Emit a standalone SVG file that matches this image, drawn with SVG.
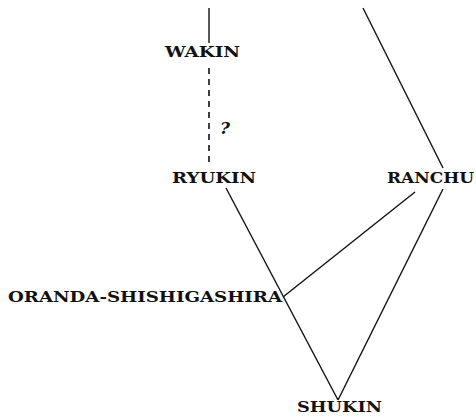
<svg xmlns="http://www.w3.org/2000/svg" width="476" height="419" viewBox="0 0 476 419">
<style>
text{font-family:"DejaVu Serif","Liberation Serif",serif;font-weight:bold;font-size:15px;fill:#111}
.l{stroke:#111;stroke-width:1.4;fill:none}
.d{stroke:#111;stroke-width:1.6;stroke-dasharray:6,5;fill:none}
</style>
<rect width="476" height="419" fill="#fff"/>
<g id="connectors">
<line class="l" x1="209" y1="8" x2="209" y2="43"/>
<line class="d" x1="209" y1="68" x2="209" y2="166"/>
<line class="l" x1="363" y1="8" x2="443" y2="168"/>
<line class="l" x1="226" y1="188" x2="338" y2="400"/>
<line class="l" x1="415" y1="192" x2="283" y2="297"/>
<line class="l" x1="443" y1="189" x2="338" y2="400"/>
</g>
<g id="wakin"><text x="165" y="57" textLength="75" lengthAdjust="spacingAndGlyphs">WAKIN</text></g>
<g id="question"><text x="220" y="134" style="font-style:italic;font-size:17px">?</text></g>
<g id="ryukin"><text x="172" y="183" textLength="84" lengthAdjust="spacingAndGlyphs">RYUKIN</text></g>
<g id="ranchu"><text x="387" y="183" textLength="87" lengthAdjust="spacingAndGlyphs">RANCHU</text></g>
<g id="oranda"><text x="8" y="302" textLength="274" lengthAdjust="spacingAndGlyphs">ORANDA-SHISHIGASHIRA</text></g>
<g id="shukin"><text x="297" y="412" textLength="85" lengthAdjust="spacingAndGlyphs">SHUKIN</text></g>
</svg>
